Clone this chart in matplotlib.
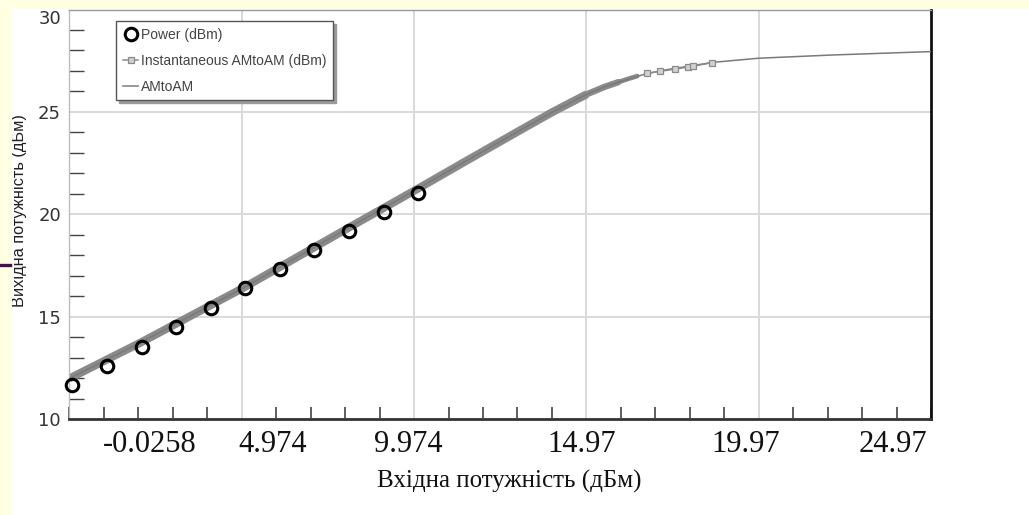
import numpy as np
import matplotlib
matplotlib.use("Agg")
import matplotlib.pyplot as plt
from matplotlib.patches import Rectangle

# --- data (x in dB on the plot's own linear scale) ---
X_MIN, X_MAX = -5.0258, 19.974
Y_MIN, Y_MAX = 10, 30

# "Power (dBm)" circles
power_x = [-4.96, -3.94, -2.93, -1.94, -0.93, 0.07, 1.08, 2.08, 3.10, 4.11, 5.10]
power_y = [11.67, 12.61, 13.54, 14.48, 15.44, 16.39, 17.31, 18.26, 19.18, 20.10, 21.03]

# dense "Instantaneous AMtoAM" band (drawn as a thick trace)
band_x = [-5.026, -2.928, 0.070, 3.117, 5.119, 6.504, 8.050, 9.000, 9.986]
band_y = [11.98, 13.76, 16.45, 19.38, 21.28, 22.62, 24.10, 25.00, 25.86]
band_mid_x = [9.600, 9.986, 10.50, 10.90]
band_mid_y = [25.52, 25.86, 26.22, 26.45]
band_tail_x = [10.90, 11.20, 11.45]
band_tail_y = [26.45, 26.62, 26.75]

# sparse instantaneous samples near saturation
inst_x = [11.73, 12.11, 12.55, 12.92, 13.07, 13.61]
inst_y = [26.88, 26.98, 27.09, 27.19, 27.23, 27.40]

# "AMtoAM" curve
am_x = [-5.026, -2.928, 0.070, 3.117, 5.119, 6.504, 8.050, 9.000, 9.986, 10.50,
        11.00, 11.70, 12.307, 13.660, 14.966, 17.143, 19.900, 19.974]
am_y = [11.98, 13.76, 16.45, 19.38, 21.28, 22.62, 24.10, 25.00, 25.86, 26.22,
        26.50, 26.86, 27.06, 27.42, 27.62, 27.78, 27.94, 27.95]

# x tick labels as they sit in the picture (not on the grid lines)
xlab_pos = [-2.687, 0.883, 4.800, 9.850, 14.609, 18.875]
xlab_txt = ["-0.0258", "4.974", "9.974", "14.97", "19.97", "24.97"]
grid_x = [-0.0258, 4.974, 9.974, 14.974]
y_major = [10, 15, 20, 25, 30]

fig = plt.figure(figsize=(10.29, 5.15), dpi=100, facecolor="white")

# slide background strips
yellow = "#FFFFE1"
fig.patches.append(Rectangle((0, 0), 11.5 / 1029, 1, transform=fig.transFigure,
                             fc=yellow, ec="none", zorder=0))
fig.patches.append(Rectangle((0, 1 - 8.5 / 515), 1, 8.5 / 515, transform=fig.transFigure,
                             fc=yellow, ec="none", zorder=0))
fig.lines.append(plt.Line2D([0, 9.5 / 1029], [1 - 265 / 515] * 2, transform=fig.transFigure,
                            color="#4A0E4A", lw=2.4, zorder=1))

ax = fig.add_axes([69.4 / 1029, 1 - 419 / 515, 861.6 / 1029, 409.5 / 515])
ax.set_xlim(X_MIN, X_MAX)
ax.set_ylim(Y_MIN, Y_MAX)

# traces
ax.plot(band_x, band_y, color="#8a8a8a", lw=5.8, solid_capstyle="butt",
        solid_joinstyle="round", zorder=2)
ax.plot(band_mid_x, band_mid_y, color="#8a8a8a", lw=4.6, solid_capstyle="round",
        solid_joinstyle="round", zorder=2)
ax.plot(band_tail_x, band_tail_y, color="#8a8a8a", lw=3.4, solid_capstyle="round",
        solid_joinstyle="round", zorder=2)
l_am, = ax.plot(am_x, am_y, color="#7a7a7a", lw=1.1, zorder=3, label="AMtoAM")
l_inst, = ax.plot(inst_x, inst_y, color="#8a8a8a", lw=1.1, marker="s", ms=4,
                  mfc="#d0d0d0", mec="#8a8a8a", mew=0.9, zorder=4,
                  label="Instantaneous AMtoAM (dBm)")
l_pow, = ax.plot(power_x, power_y, ls="none", marker="o", ms=9, mfc="none",
                 mec="black", mew=2.2, zorder=5, clip_on=False, label="Power (dBm)")

# grid and ticks
ax.set_xticks(grid_x)
ax.set_xticks(np.arange(-5.0258, 19.98, 1.0), minor=True)
ax.set_yticks(y_major)
ax.set_yticks(np.arange(10, 31, 1), minor=True)
ax.grid(True, which="major", color="#d9d9d9", lw=1.4, zorder=0)
ax.set_axisbelow(True)
ax.tick_params(axis="x", which="major", length=0, labelbottom=False)
ax.tick_params(axis="x", which="minor", direction="in", length=9, width=1.1, color="#333333")
ax.tick_params(axis="y", which="major", length=0, pad=6, labelsize=13,
               labelcolor="#333333")
ax.tick_params(axis="y", which="minor", direction="in", length=11, width=1.0, color="#444444")
ylabels = ax.get_yticklabels()
for t in ylabels:
    t.set_family("DejaVu Sans")
ylabels[0].set_verticalalignment("center_baseline")
ylabels[-1].set_verticalalignment("top")

secx = ax.secondary_xaxis("bottom")
secx.set_xticks(xlab_pos)
secx.set_xticklabels(xlab_txt, family="Liberation Serif", fontsize=22, color="#111111")
secx.tick_params(length=0, pad=8)
secx.spines["bottom"].set_visible(False)

for side, col, w in (("left", "#bdbdbd", 1.0), ("top", "#9a9a9a", 1.0),
                     ("right", "#111111", 2.0), ("bottom", "#333333", 2.0)):
    ax.spines[side].set_color(col)
    ax.spines[side].set_linewidth(w)

ax.set_ylabel("Вихідна потужність (дБм)", family="Liberation Sans", fontsize=11.8,
              color="#222222")
ax.yaxis.set_label_coords(-0.049, 0.508)
ax.set_xlabel("Вхідна потужність (дБм)", family="Liberation Serif", fontsize=18,
              color="#111111")
ax.xaxis.set_label_coords(0.511, -0.125)

leg = ax.legend(handles=[l_pow, l_inst, l_am], loc="upper left",
                bbox_to_anchor=(0.054, 0.972), frameon=True, fancybox=False,
                shadow={"color": "#9a9a9a", "alpha": 1.0},
                prop={"family": "Liberation Sans", "size": 10},
                labelspacing=0.85, handlelength=1.1, handletextpad=0.2,
                borderpad=0.5, borderaxespad=0)
leg.get_frame().set_edgecolor("#555555")
leg.get_frame().set_linewidth(1.0)
for t in leg.get_texts():
    t.set_color("#444444")

fig.savefig("out.png", dpi=100, facecolor=fig.get_facecolor())
